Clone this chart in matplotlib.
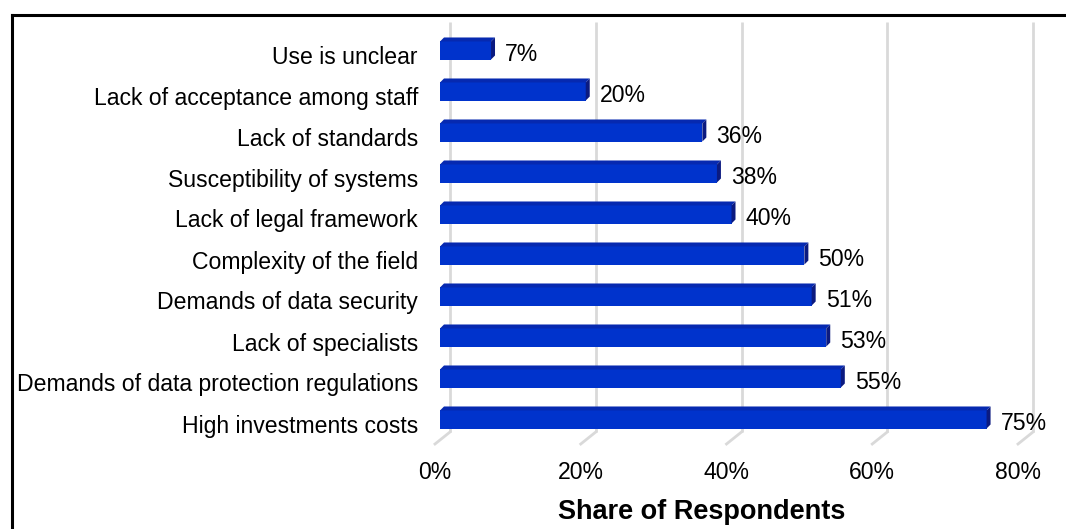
import matplotlib
matplotlib.use("Agg")
import matplotlib.pyplot as plt
from matplotlib.patches import Polygon
from matplotlib.lines import Line2D
from matplotlib.transforms import IdentityTransform, offset_copy
import numpy as np

categories = [
    "Use is unclear",
    "Lack of acceptance among staff",
    "Lack of standards",
    "Susceptibility of systems",
    "Lack of legal framework",
    "Complexity of the field",
    "Demands of data security",
    "Lack of specialists",
    "Demands of data protection regulations",
    "High investments costs",
]
values = [7, 20, 36, 38, 40, 50, 51, 53, 55, 75]
xticks = [0, 20, 40, 60, 80]
xticklabels = ["0%", "20%", "40%", "60%", "80%"]
xlabel = "Share of Respondents"

FRONT = "#0033cc"
TOP = "#0629b0"
SIDE = "#0b1a80"
GRID = "#d9d9d9"
FONT = "Liberation Sans"
FS = 16.6

W, H = 1066, 529
fig = plt.figure(figsize=(W / 100, H / 100), dpi=100)
ax = fig.add_axes([435 / W, (H - 444) / H, 583 / W, 410 / H])
ax.set_xlim(0, 80)
ax.set_ylim(len(categories) - 0.5, -0.5)
for s in ax.spines.values():
    s.set_visible(False)
ax.set_facecolor("none")

# 3D-style gridlines (back wall + floor diagonal)
depth_x, depth_y = 15, 12
gtrans = offset_copy(ax.get_xaxis_transform(), fig=fig, x=depth_x, y=depth_y, units="dots")
for xv in xticks:
    ax.plot([xv, xv], [0, 1], transform=gtrans, color=GRID, lw=2, zorder=0,
            solid_capstyle="butt", clip_on=False)
    p0 = ax.get_xaxis_transform().transform((xv, 0))
    p1 = p0 + np.array([depth_x, depth_y])
    fig.add_artist(Line2D([p0[0], p1[0]], [p0[1], p1[1]], transform=IdentityTransform(),
                          color=GRID, lw=2, zorder=0))

# bars at one-third depth
bx, by = 5, 4
btrans = offset_copy(ax.transData, fig=fig, x=bx, y=by, units="dots")
ypos = np.arange(len(categories))
bh = 0.44
bars = ax.barh(ypos, values, height=bh, color=FRONT, zorder=3, transform=btrans)
dx, dy = 4, 4
for b in bars:
    x0, y0 = b.get_x(), b.get_y()
    x1, y1 = x0 + b.get_width(), y0 + b.get_height()
    tl = btrans.transform((x0, y0))
    tr = btrans.transform((x1, y0))
    br = btrans.transform((x1, y1))
    off = np.array([dx, dy])
    top = Polygon([tl, tr, tr + off, tl + off], closed=True, transform=IdentityTransform(),
                  facecolor=TOP, edgecolor="none", zorder=4)
    side = Polygon([tr, br, br + off, tr + off], closed=True, transform=IdentityTransform(),
                   facecolor=SIDE, edgecolor="none", zorder=4)
    fig.add_artist(top)
    fig.add_artist(side)

for i, v in enumerate(values):
    ax.annotate(f"{v}%", (v, i), xytext=(19, 0), textcoords="offset pixels",
                ha="left", va="center", fontsize=FS, family=FONT, color="#000000", zorder=5)

ax.set_yticks(ypos)
ax.set_yticklabels(categories, fontsize=FS, family=FONT)
ax.set_xticks(xticks)
ax.set_xticklabels(xticklabels, fontsize=FS, family=FONT)
ax.tick_params(axis="both", length=0)
ax.tick_params(axis="y", pad=12.3)
ax.tick_params(axis="x", pad=12.5)

fig.text(701.5 / W, 1 - 512 / H, xlabel, ha="center", va="center", fontsize=19.5,
         fontweight="bold", family=FONT)

# partial frame (left & top edges)
fx, fy = 12 / W, 1 - 15 / H
fig.add_artist(Line2D([fx, fx], [-0.01, fy], color="black", lw=2.2, transform=fig.transFigure))
fig.add_artist(Line2D([fx, 1.01], [fy, fy], color="black", lw=2.2, transform=fig.transFigure))

fig.savefig("out.png", dpi=100)
